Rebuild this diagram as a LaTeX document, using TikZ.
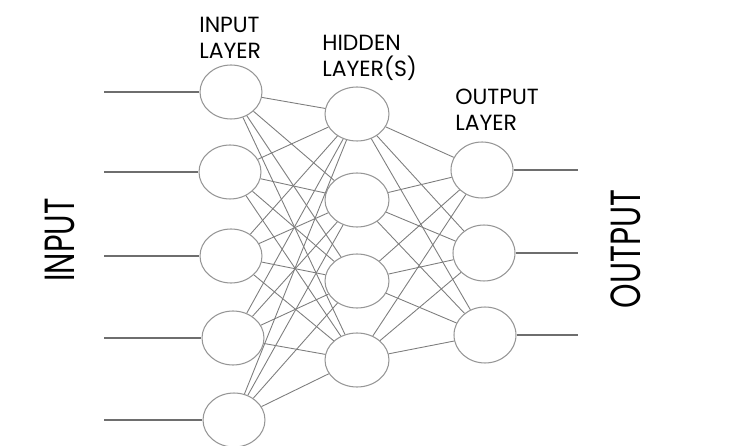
\documentclass[tikz,border=0pt]{standalone}
\usepackage{fontspec}
\setmainfont{Poppins}
\usepackage{graphicx}
\usetikzlibrary{shapes.geometric, positioning}
\definecolor{wiregray}{RGB}{125,125,125}
\definecolor{rimgray}{RGB}{150,150,150}
\definecolor{feedgray}{RGB}{110,110,110}

\tikzset{
  neuron/.style={draw=rimgray, line width=0.6pt, ellipse, minimum width=1.24cm, minimum height=1.08cm, inner sep=0pt},
  wire/.style={draw=wiregray, line width=0.5pt},
  feed/.style={draw=feedgray, line width=0.8pt},
  layername/.style={align=left, anchor=north west, inner sep=0pt, font=\fontsize{12.5}{14.5}\selectfont},
  sidename/.style={rotate=90, inner sep=0pt, font=\fontsize{24}{24}\selectfont}
}

\begin{document}
\begin{tikzpicture}[x=0.02cm, y=-0.02cm]
    \useasboundingbox (0,0) rectangle (748,446);

    % Input layer
    \foreach \i/\x/\y in {1/231/92, 2/230/172, 3/231/256, 4/233/338, 5/234/420} {
        \node[neuron] (in\i) at (\x,\y) {};
        \coordinate (src\i) at (104,\y);
        \draw[feed] (src\i) -- (in\i);
    }

    % Hidden layer
    \foreach \j/\y in {1/114, 2/200, 3/281, 4/360}
        \node[neuron, minimum width=1.28cm] (hid\j) at (357,\y) {};

    % Output layer
    \foreach \k/\x/\y in {1/482/170, 2/484/253, 3/485/335} {
        \node[neuron, minimum height=1.12cm] (out\k) at (\x,\y) {};
        \coordinate (sink\k) at (578,\y);
        \draw[feed] (out\k) -- (sink\k);
    }

    % Weights
    \foreach \i in {1,...,5}
        \foreach \j in {1,...,4}
            \draw[wire] (in\i) -- (hid\j);
    \foreach \j in {1,...,4}
        \foreach \k in {1,2,3}
            \draw[wire] (hid\j) -- (out\k);

    % Layer names
    \node[layername] (inname) at (199,17) {INPUT\\LAYER};
    \node[layername] (hidname) at (322,35) {HIDDEN\\LAYER(S)};
    \node[layername] (outname) at (455,89) {OUTPUT\\LAYER};

    % Side names
    \node[sidename] (inputword) at (60,240) {\scalebox{0.72}[1]{INPUT}};
    \node[sidename] (outputword) at (626,249) {\scalebox{0.74}[1]{OUTPUT}};
\end{tikzpicture}
\end{document}
